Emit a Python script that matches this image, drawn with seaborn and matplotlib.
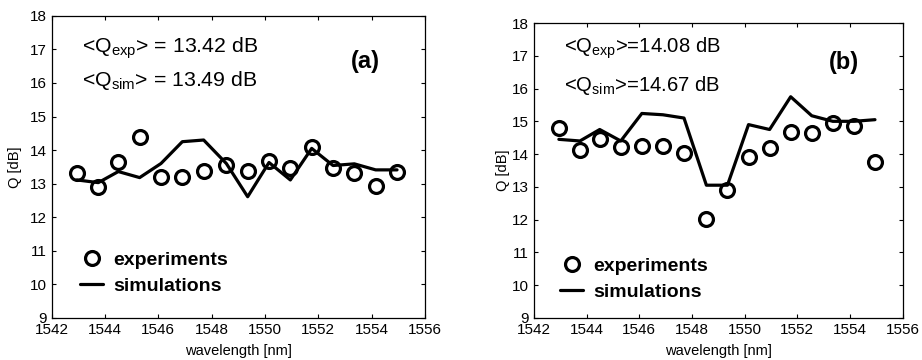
import numpy as np
import matplotlib
matplotlib.use('Agg')
import matplotlib.pyplot as plt
import seaborn as sns
from matplotlib.lines import Line2D

# wavelengths of the 16 channels [nm]
wavelength = [1542.95, 1543.75, 1544.5, 1545.3, 1546.1, 1546.9, 1547.7, 1548.55,
              1549.35, 1550.15, 1550.95, 1551.75, 1552.55, 1553.35, 1554.15, 1554.95]

# panel (a)
q_exp_a = [13.31, 12.91, 13.64, 14.38, 13.21, 13.21, 13.38, 13.56,
           13.38, 13.68, 13.46, 14.10, 13.46, 13.31, 12.94, 13.36]
q_sim_a = [13.11, 13.03, 13.36, 13.18, 13.60, 14.25, 14.30, 13.60,
           12.61, 13.63, 13.11, 14.05, 13.54, 13.59, 13.41, 13.41]

# panel (b)
q_exp_b = [14.81, 14.13, 14.45, 14.23, 14.26, 14.26, 14.02, 12.03,
           12.91, 13.90, 14.20, 14.66, 14.65, 14.96, 14.86, 13.77]
q_sim_b = [14.45, 14.40, 14.75, 14.40, 15.24, 15.20, 15.10, 13.05,
           13.05, 14.90, 14.75, 15.75, 15.17, 15.00, 15.00, 15.05]

texts_a = ['<Q$_{exp}$> = 13.42 dB', '<Q$_{sim}$> = 13.49 dB', '(a)']
texts_b = ['<Q$_{exp}$>=14.08 dB', '<Q$_{sim}$>=14.67 dB', '(b)']

sns.set_style('ticks', rc={'axes.edgecolor': 'k', 'text.color': 'k',
                           'axes.labelcolor': 'k', 'xtick.color': 'k',
                           'ytick.color': 'k'})
plt.rcParams['font.family'] = ['Liberation Sans', 'DejaVu Sans']
plt.rcParams['mathtext.default'] = 'regular'

fig = plt.figure(figsize=(9.22, 3.6), dpi=100)
ax_a = fig.add_axes([0.056, 0.117, 0.405, 0.839])
ax_b = fig.add_axes([0.579, 0.117, 0.400, 0.819])


def draw_panel(ax, q_exp, q_sim, texts, ypos, letter_y, leg_anchor, tsize, ylpad):
	sns.lineplot(x=wavelength, y=q_sim, ax=ax, color='k', lw=2.3, sort=False)
	sns.lineplot(x=wavelength, y=q_exp, ax=ax, color='k', lw=0, marker='o',
	             markersize=10, markerfacecolor='none', markeredgecolor='k',
	             markeredgewidth=2.3, sort=False)
	ax.set_xlim(1542, 1556)
	ax.set_ylim(9, 18)
	ax.set_xticks(np.arange(1542, 1557, 2))
	ax.set_yticks(np.arange(9, 19, 1))
	ax.tick_params(direction='in', top=True, right=True, labelsize=11, length=3)
	ax.tick_params(axis='x', pad=4)
	for s in ax.spines.values():
		s.set_linewidth(0.9)
		s.set_visible(True)
	ax.set_xlabel('wavelength [nm]', fontsize=10.5, labelpad=5)
	ax.set_ylabel('Q [dB]', fontsize=10.5, labelpad=ylpad)
	ax.text(1543.15, ypos[0], texts[0], fontsize=tsize, va='baseline')
	ax.text(1543.15, ypos[1], texts[1], fontsize=tsize, va='baseline')
	ax.text(1553.78, letter_y, texts[2], fontsize=17, fontweight='bold',
	        ha='center', va='baseline')
	handles = [Line2D([], [], ls='', marker='o', ms=10, mfc='none', mec='k', mew=2.3),
	           Line2D([], [], color='k', lw=2.3)]
	ax.legend(handles, ['experiments', 'simulations'], loc='lower left',
	          bbox_to_anchor=leg_anchor, frameon=False, handlelength=1.2,
	          handletextpad=0.5, labelspacing=0.45, borderaxespad=0,
	          prop={'weight': 'bold', 'size': 14})


draw_panel(ax_a, q_exp_a, q_sim_a, texts_a, (16.89, 15.91), 16.44, (0.055, 0.05), 15.3, 5.5)
draw_panel(ax_b, q_exp_b, q_sim_b, texts_b, (17.09, 15.93), 16.61, (0.05, 0.03), 14.6, 1.5)

fig.savefig('out.png', dpi=100)
